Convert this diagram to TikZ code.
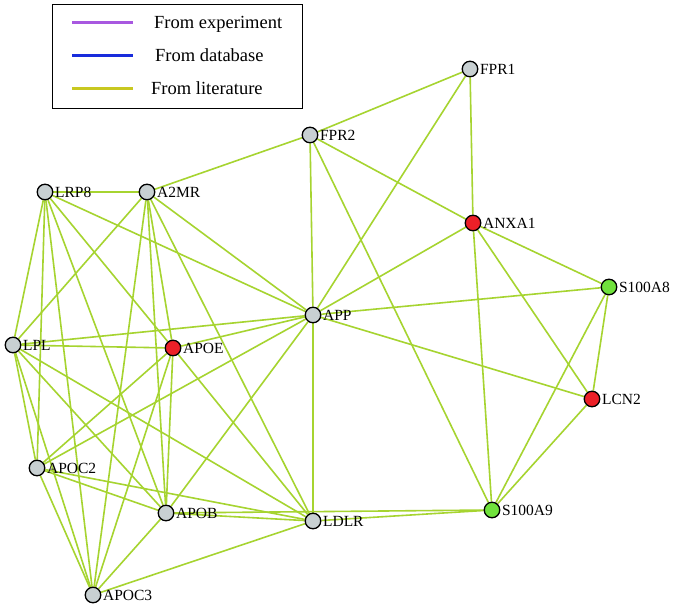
\documentclass[tikz,border=0pt]{standalone}
\usepackage{fontspec}
\setmainfont{Liberation Serif}
\usetikzlibrary{backgrounds}
\definecolor{edgecol}{RGB}{166,212,48}
\definecolor{graynode}{RGB}{200,208,210}
\definecolor{rednode}{RGB}{236,32,40}
\definecolor{greennode}{RGB}{112,226,60}
\definecolor{legpurple}{RGB}{168,88,224}
\definecolor{legblue}{RGB}{24,44,220}
\definecolor{legyellow}{RGB}{200,200,32}
\begin{document}
\begin{tikzpicture}[x=1pt,y=-1pt,
 gene/.style={circle,draw=black,line width=1.3pt,minimum size=15.5pt,inner sep=0pt},
 gg/.style={gene,fill=graynode},
 rg/.style={gene,fill=rednode},
 vg/.style={gene,fill=greennode},
 lbl/.style={font=\fontsize{15.5}{18}\selectfont,inner sep=1.5pt},
 link/.style={draw=edgecol,line width=1.6pt},
 legtext/.style={font=\fontsize{18.5}{22}\selectfont,anchor=base west,inner sep=0pt},
 legline/.style={line width=3pt}]
\useasboundingbox (0,0) rectangle (677,609);

% legend
\node[draw=black,line width=1.3pt,minimum width=250pt,minimum height=104pt,anchor=north west,inner sep=0pt] (legend) at (52,4) {};
\coordinate (e1) at (72,23); \coordinate (e2) at (133,23);
\coordinate (d1) at (72,56); \coordinate (d2) at (133,56);
\coordinate (l1) at (72,89); \coordinate (l2) at (133,89);
\draw[legline,legpurple] (e1) -- (e2);
\draw[legline,legblue] (d1) -- (d2);
\draw[legline,legyellow] (l1) -- (l2);
\node[legtext] (t1) at (154,29) {From experiment};
\node[legtext] (t2) at (155,62) {From database};
\node[legtext] (t3) at (151,95) {From literature};

% nodes
\node[gg,label={[lbl]right:FPR1}] (FPR1) at (470,69) {};
\node[gg,label={[lbl]right:FPR2}] (FPR2) at (310,135) {};
\node[gg,label={[lbl]right:LRP8}] (LRP8) at (45,192) {};
\node[gg,label={[lbl]right:A2MR}] (A2MR) at (147,192) {};
\node[rg,label={[lbl]right:ANXA1}] (ANXA1) at (473,223) {};
\node[vg,label={[lbl]right:S100A8}] (S100A8) at (609,287) {};
\node[gg,label={[lbl]right:APP}] (APP) at (313,315) {};
\node[gg,label={[lbl]right:LPL}] (LPL) at (13,345) {};
\node[rg,label={[lbl]right:APOE}] (APOE) at (173,348) {};
\node[rg,label={[lbl]right:LCN2}] (LCN2) at (592,399) {};
\node[gg,label={[lbl]right:APOC2}] (APOC2) at (37,468) {};
\node[gg,label={[lbl]right:APOB}] (APOB) at (166,513) {};
\node[gg,label={[lbl]right:LDLR}] (LDLR) at (313,521) {};
\node[vg,label={[lbl]right:S100A9}] (S100A9) at (492,510) {};
\node[gg,label={[lbl]right:APOC3}] (APOC3) at (93,595) {};

% edges
\begin{scope}[on background layer]
\fill[white] (0,0) rectangle (677,609);
\draw[link] (FPR1) -- (FPR2);
\draw[link] (FPR1) -- (APP);
\draw[link] (FPR1) -- (ANXA1);
\draw[link] (FPR2) -- (A2MR);
\draw[link] (FPR2) -- (APP);
\draw[link] (FPR2) -- (ANXA1);
\draw[link] (FPR2) -- (S100A9);
\draw[link] (ANXA1) -- (APP);
\draw[link] (ANXA1) -- (S100A8);
\draw[link] (ANXA1) -- (S100A9);
\draw[link] (ANXA1) -- (LCN2);
\draw[link] (S100A8) -- (APP);
\draw[link] (S100A8) -- (LCN2);
\draw[link] (S100A8) -- (S100A9);
\draw[link] (LCN2) -- (APP);
\draw[link] (LCN2) -- (S100A9);
\draw[link] (S100A9) -- (LDLR);
\draw[link] (S100A9) -- (APOB);
\draw[link] (LRP8) -- (A2MR);
\draw[link] (LRP8) -- (LPL);
\draw[link] (LRP8) -- (APOC2);
\draw[link] (LRP8) -- (APOC3);
\draw[link] (LRP8) -- (APOB);
\draw[link] (LRP8) -- (APOE);
\draw[link] (LRP8) -- (APP);
\draw[link] (A2MR) -- (LPL);
\draw[link] (A2MR) -- (APOC3);
\draw[link] (A2MR) -- (APOB);
\draw[link] (A2MR) -- (APOE);
\draw[link] (A2MR) -- (LDLR);
\draw[link] (A2MR) -- (APP);
\draw[link] (LPL) -- (APP);
\draw[link] (LPL) -- (APOE);
\draw[link] (LPL) -- (APOC2);
\draw[link] (LPL) -- (APOC3);
\draw[link] (LPL) -- (APOB);
\draw[link] (LPL) -- (LDLR);
\draw[link] (APOE) -- (APP);
\draw[link] (APOE) -- (APOC2);
\draw[link] (APOE) -- (APOC3);
\draw[link] (APOE) -- (APOB);
\draw[link] (APOE) -- (LDLR);
\draw[link] (APP) -- (LDLR);
\draw[link] (APP) -- (APOC2);
\draw[link] (APP) -- (APOB);
\draw[link] (APOC2) -- (APOB);
\draw[link] (APOC2) -- (LDLR);
\draw[link] (APOC2) -- (APOC3);
\draw[link] (APOB) -- (LDLR);
\draw[link] (APOB) -- (APOC3);
\draw[link] (APOC3) -- (LDLR);
\end{scope}
\end{tikzpicture}
\end{document}
